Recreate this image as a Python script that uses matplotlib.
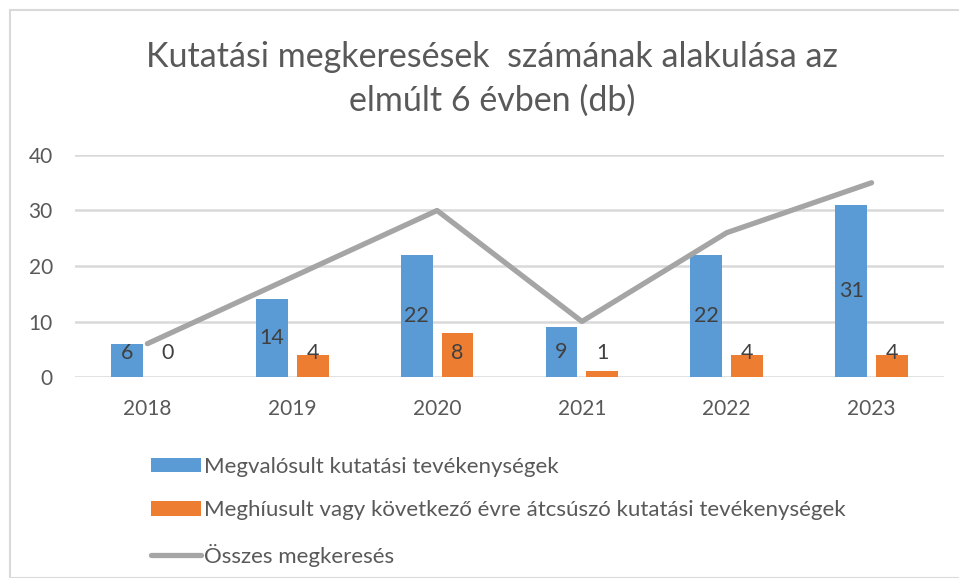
import numpy as np
import matplotlib.pyplot as plt
from matplotlib.patches import Rectangle

plt.rcParams['font.family'] = ['Lato', 'DejaVu Sans']

years = ['2018', '2019', '2020', '2021', '2022', '2023']
megvalosult = [6, 14, 22, 9, 22, 31]
meghiusult = [0, 4, 8, 1, 4, 4]
osszes = [6, 18, 30, 10, 26, 35]

txt = '#595959'
grid = '#d9d9d9'

fig = plt.figure(figsize=(9.59, 5.78), dpi=100)
ax = fig.add_axes([75/959, 1-377/578, 869/959, 222/578])

x = np.arange(len(years))
w = 0.22
off = 0.141
ax.bar(x-off, megvalosult, w, color='#5b9bd5', label='Megvalósult kutatási tevékenységek', zorder=2)
ax.bar(x+off, meghiusult, w, color='#ed7d31',
       label='Meghíusult vagy következő évre átcsúszó kutatási tevékenységek', zorder=2)
ax.plot(x, osszes, color='#a5a5a5', lw=3.8, solid_capstyle='round', label='Összes megkeresés', zorder=3)

# value labels, Excel pushes the small ones up a bit
for i in range(len(years)):
    ax.text(x[i]-off, max(megvalosult[i]/2, 4.3), str(megvalosult[i]), ha='center', va='center',
            fontsize=15.5, color='#404040', zorder=4)
    ax.text(x[i]+off, max(meghiusult[i]/2, 4.3), str(meghiusult[i]), ha='center', va='center',
            fontsize=15.5, color='#404040', zorder=4)

ax.set_xlim(-0.5, 5.5)
ax.set_ylim(0, 40)
ax.set_yticks([0, 10, 20, 30, 40])
ax.set_xticks(x)
ax.set_xticklabels(years)
ax.yaxis.grid(True, color=grid, lw=1.8, zorder=0)
ax.set_axisbelow(True)
for s in ax.spines.values():
    s.set_visible(False)
ax.tick_params(length=0, labelsize=15, labelcolor=txt)
ax.tick_params(axis='x', pad=16)
ax.tick_params(axis='y', pad=16)

fig.text(0.513, 0.901, 'Kutatási megkeresések  számának alakulása az', ha='center', va='center',
         fontsize=24.5, color=txt)
fig.text(0.513, 0.826, 'elmúlt 6 évben (db)', ha='center', va='center', fontsize=24.5, color=txt)

h, l = ax.get_legend_handles_labels()
order = [1, 2, 0]
fig.legend([h[i] for i in order], [l[i] for i in order], loc='upper left',
           bbox_to_anchor=(131/959, 1-437/578), frameon=False, fontsize=16,
           labelcolor=txt, handlelength=2.25, handleheight=0.6, handletextpad=0.12,
           labelspacing=1.05)

fig.patches.append(Rectangle((10/959, 0), 1, 1-10/578, transform=fig.transFigure,
                             fill=False, edgecolor=grid, lw=1.5))

fig.savefig('out.png', dpi=100)
